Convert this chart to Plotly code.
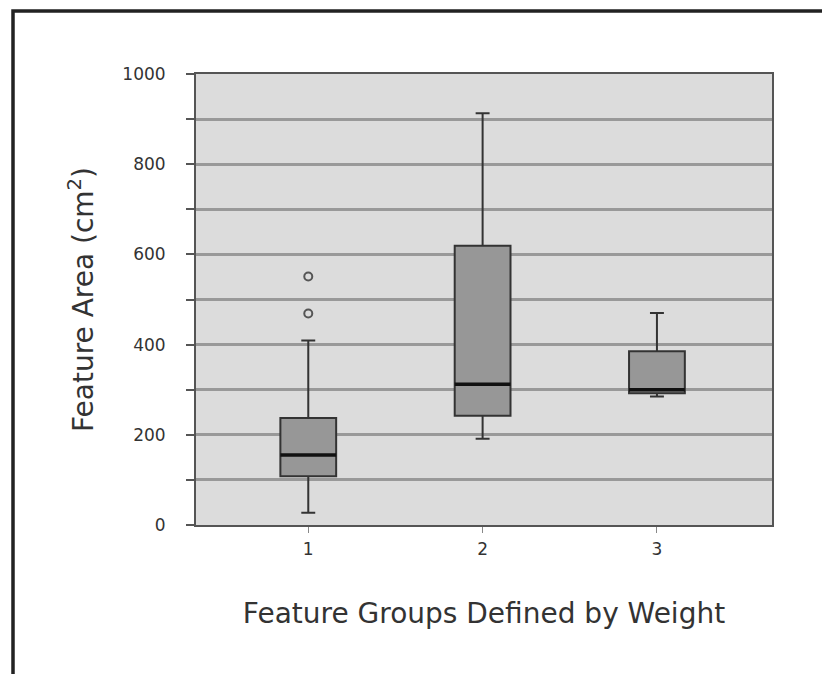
import plotly.graph_objects as go

groups = [1, 2, 3]
lower_whisker = [27, 191, 285]
q1_vals = [108, 242, 292]
medians = [155, 312, 300]
q3_vals = [237, 619, 385]
upper_whisker = [409, 913, 470]
outlier_x = [1, 1]
outlier_y = [469, 551]
y_tick_vals = [0, 200, 400, 600, 800, 1000]

FONT = "DejaVu Sans"
BOX_W = 0.32
OFF = 8  # page body margin

fig = go.Figure()
for g, lo, a, m, b, hi in zip(groups, lower_whisker, q1_vals, medians, q3_vals, upper_whisker):
    fig.add_trace(go.Box(
        x=[g], q1=[a], median=[m], q3=[b], lowerfence=[lo], upperfence=[hi],
        width=BOX_W, whiskerwidth=0.25,
        fillcolor="#979797", line=dict(color="#333333", width=2),
        boxpoints=False, showlegend=False, hoverinfo="skip",
    ))

# thicker median lines
mx, my = [], []
for g, m in zip(groups, medians):
    mx += [g - BOX_W / 2, g + BOX_W / 2, None]
    my += [m, m, None]
fig.add_trace(go.Scatter(x=mx, y=my, mode="lines", line=dict(color="#111111", width=3.5),
                         showlegend=False, hoverinfo="skip"))

fig.add_trace(go.Scatter(
    x=outlier_x, y=outlier_y, mode="markers",
    marker=dict(symbol="circle-open", size=8, color="#555555", line=dict(width=2)),
    showlegend=False, hoverinfo="skip",
))

W, H = 830 - OFF, 674 - OFF
L, R, T, B = 196 - OFF, 58, 74 - OFF, 149
pw, ph = W - L - R, H - T - B

def px(xp):
    return (xp - OFF - L) / pw

def py(yp):
    return (H - B - (yp - OFF)) / ph

fig.add_shape(type="path", xref="paper", yref="paper",
              path=f"M {px(13)} {py(700)} L {px(13)} {py(11)} L {px(860)} {py(11)}",
              line=dict(color="#222222", width=3.5))

fig.update_layout(
    width=W, height=H,
    margin=dict(l=L, r=R, t=T, b=B),
    paper_bgcolor="white", plot_bgcolor="#dcdcdc",
    font=dict(family=FONT, color="#333333", size=17),
    xaxis=dict(
        range=[0.356, 3.66], tickvals=groups, ticktext=[str(g) for g in groups],
        showgrid=False, zeroline=False,
        showline=True, mirror=True, linecolor="#555555", linewidth=2,
        ticks="outside", ticklen=6, tickcolor="#888888", tickwidth=1,
        tickfont=dict(size=17), ticklabelstandoff=2,
        title=dict(text="Feature Groups Defined by Weight", font=dict(size=28), standoff=45),
    ),
    yaxis=dict(
        range=[0, 1000], tickvals=y_tick_vals, ticktext=[str(v) for v in y_tick_vals],
        showgrid=True, gridcolor="#999999", gridwidth=2.5, zeroline=False,
        showline=True, mirror=True, linecolor="#555555", linewidth=2,
        ticks="outside", ticklen=8, tickcolor="#555555", tickwidth=1.5,
        tickfont=dict(size=17), ticklabelstandoff=17,
        minor=dict(dtick=100, showgrid=True, gridcolor="#999999", gridwidth=2.5,
                   ticks="outside", ticklen=8, tickcolor="#555555", tickwidth=1.5),
        title=dict(text="Feature Area (cm<sup>2</sup>)", font=dict(size=28), standoff=21),
    ),
)

fig.write_html("out.html")
